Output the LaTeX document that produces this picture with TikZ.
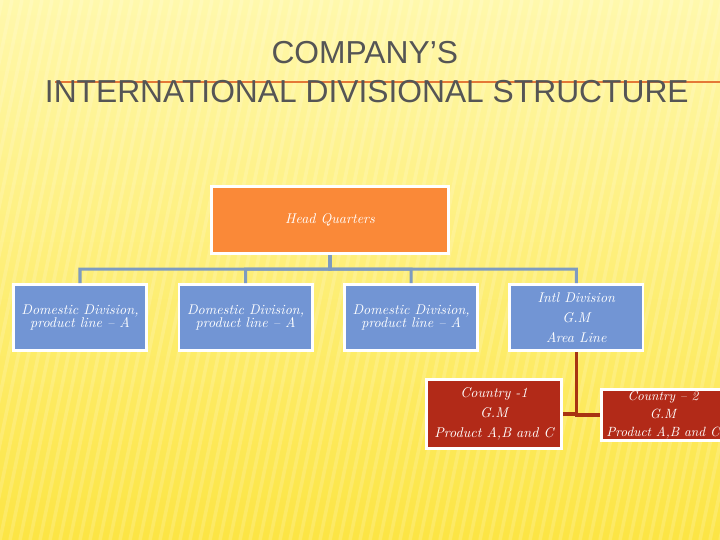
\documentclass[tikz,border=0pt]{standalone}
\usepackage{fontspec}
\usepackage{tikz}
\usetikzlibrary{positioning, calc}
\newfontfamily\titlefont{Liberation Sans}
\definecolor{BgTop}{RGB}{255,248,172}
\definecolor{BgBot}{RGB}{252,229,68}
\definecolor{TitleGray}{RGB}{85,85,85}
\definecolor{RuleOrange}{RGB}{228,120,55}
\definecolor{HQOrange}{RGB}{250,137,56}
\definecolor{DivBlue}{RGB}{114,149,212}
\definecolor{CtyRed}{RGB}{178,42,24}
\definecolor{LinkBlue}{RGB}{126,155,192}
\definecolor{LinkRed}{RGB}{168,52,18}

\begin{document}
\begin{tikzpicture}[
    box/.style={rectangle, draw=white, line width=2pt, text=white,
                align=center, inner sep=2pt,
                minimum width=3.33cm, minimum height=1.65cm,
                font=\fontsize{10}{14}\selectfont\itshape},
    ttl/.style={font=\titlefont\fontsize{22.6}{26}\selectfont,
                text=TitleGray, anchor=base, inner sep=0pt},
    buslink/.style={LinkBlue, line width=2.2pt},
    arealink/.style={LinkRed, line width=2.2pt}
  ]
  \useasboundingbox (0,0) rectangle (18,13.5);
  \clip (0,0) rectangle (18,13.5);

  % background
  \shade[top color=BgTop, bottom color=BgBot] (0,0) rectangle (18,13.5);
  \foreach \k in {-12,...,72} {
    \draw[white, opacity=0.16, line width=2.5pt] (\k*0.25,0) -- ++(2.8,13.5);
  }

  % title
  \draw[RuleOrange, line width=1.3pt] (1.375,11.45) -- (18,11.45);
  \node[ttl] (title1) at (9.12,11.9) {COMPANY’S};
  \node[ttl] (title2) at (9.17,10.93) {INTERNATIONAL DIVISIONAL STRUCTURE};

  % head quarters
  \node[box, fill=HQOrange, minimum width=5.93cm, minimum height=1.68cm]
        (hq) at (8.25,8.0) {Head Quarters};

  % divisions
  \foreach \i/\x in {1/2.0, 2/6.14, 3/10.28} {
    \node[box, fill=DivBlue, font=\fontsize{10}{9.5}\selectfont\itshape]
          (dom\i) at (\x,5.56) {Domestic Division,\\product line – A};
  }
  \node[box, fill=DivBlue] (intl) at (14.41,5.56)
        {Intl Division\\G.M\\Area Line};

  \coordinate (bus) at ($(hq.south)!0.5!(hq.south|-dom1.north)$);
  \foreach \n in {dom1, dom2, dom3, intl} {
    \draw[buslink] (hq.south) -- (bus) -| (\n.north);
  }

  % countries
  \node[box, fill=CtyRed, minimum width=3.38cm, minimum height=1.73cm]
        (cty1) at (12.35,3.15) {Country -1\\G.M\\Product A,B and C};
  \node[box, fill=CtyRed, minimum width=3.08cm, minimum height=1.28cm,
        inner sep=1pt, font=\fontsize{9.5}{12.8}\selectfont\itshape]
        (cty2) at (16.575,3.125) {Country – 2\\G.M\\Product A,B and C};

  \draw[arealink] (intl.south) |- (cty1.east);
  \draw[arealink] (intl.south) |- (cty2.west);
\end{tikzpicture}
\end{document}
